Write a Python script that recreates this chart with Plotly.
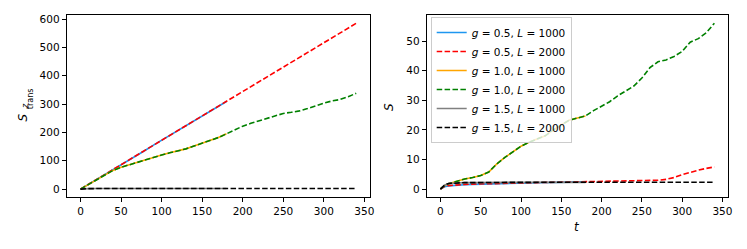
import plotly.graph_objects as go

# ---- data ----
t_long = [0, 5, 10, 20, 30, 40, 50, 60, 70, 80, 90, 100, 110, 120, 130, 140, 150, 160, 170, 180,
          190, 200, 210, 220, 230, 240, 250, 260, 270, 280, 290, 300, 310, 320, 330, 340]
t_short = t_long[:20]

# S_trans^z (left panel)
strans_g05_L2000 = [0, 8.6, 17, 34, 52, 69, 86, 103, 120, 138, 155, 172, 189, 206, 224, 241, 258, 275, 292, 310,
                    327, 344, 361, 378, 396, 413, 430, 447, 464, 482, 499, 516, 533, 550, 568, 585]
strans_g05_L1000 = [0, 8.4, 16.8, 34, 51, 68, 86, 103, 120, 137, 155, 172, 189, 206, 223, 240, 258, 275, 292, 309]
strans_g10_L2000 = [0, 8.5, 17, 33, 50, 66, 77, 86, 94, 103, 112, 120, 128, 134, 142, 152, 162, 171, 182, 195,
                    210, 222, 232, 241, 251, 260, 267, 271, 276, 284, 294, 303, 311, 316, 326, 338]
strans_g10_L1000 = [0, 8.5, 17, 33, 50, 66, 77, 86, 94, 103, 112, 120, 128, 134, 142, 152, 162, 171, 182, 195]
strans_g15_L2000 = [0, 1.2, 1.6, 2.0, 2.1, 2.2, 2.2, 2.3, 2.3, 2.3, 2.3, 2.3, 2.3, 2.3, 2.3, 2.3, 2.3, 2.3, 2.3, 2.3,
                    2.3, 2.3, 2.3, 2.3, 2.3, 2.3, 2.3, 2.3, 2.3, 2.3, 2.3, 2.3, 2.3, 2.3, 2.3, 2.3]
strans_g15_L1000 = [0, 1.2, 1.6, 2.0, 2.1, 2.2, 2.2, 2.3, 2.3, 2.3, 2.3, 2.3, 2.3, 2.3, 2.3, 2.3, 2.3, 2.3, 2.3, 2.3]

# entanglement entropy S (right panel)
S_g05_L2000 = [0, 0.9, 1.2, 1.5, 1.6, 1.7, 1.8, 1.9, 1.95, 2.0, 2.05, 2.1, 2.15, 2.2, 2.25, 2.3, 2.35, 2.4, 2.45, 2.5,
               2.55, 2.6, 2.65, 2.7, 2.75, 2.8, 2.85, 2.9, 3.0, 3.3, 3.9, 4.9, 5.7, 6.4, 7.0, 7.5]
S_g05_L1000 = [0, 0.8, 1.1, 1.4, 1.5, 1.6, 1.7, 1.8, 1.9, 1.95, 2.0, 2.05, 2.1, 2.15, 2.2, 2.25, 2.3, 2.35, 2.4, 2.45]
S_g10_L2000 = [0.1, 1.2, 1.8, 2.7, 3.4, 3.9, 4.6, 5.8, 8.5, 10.7, 12.6, 14.5, 15.8, 16.8, 18.0, 20.0, 21.6, 23.3, 24.0, 24.7,
               26.5, 28.0, 29.5, 31.5, 33.2, 34.8, 37.5, 41.0, 43.0, 43.6, 44.8, 46.5, 49.6, 50.8, 52.8, 56.0]
S_g10_L1000 = [0.1, 1.2, 1.8, 2.7, 3.4, 3.9, 4.6, 5.8, 8.5, 10.7, 12.6, 14.5, 15.8, 16.8, 18.0, 20.0, 21.6, 23.3, 24.0, 24.7]
S_g15_L2000 = [0, 1.3, 1.9, 2.1, 2.2, 2.2, 2.25, 2.25, 2.3, 2.3, 2.3, 2.3, 2.3, 2.3, 2.3, 2.3, 2.3, 2.3, 2.3, 2.3,
               2.3, 2.3, 2.3, 2.35, 2.35, 2.35, 2.35, 2.35, 2.35, 2.35, 2.35, 2.35, 2.35, 2.35, 2.35, 2.35]
S_g15_L1000 = [0, 1.3, 1.9, 2.1, 2.2, 2.2, 2.25, 2.25, 2.3, 2.3, 2.3, 2.3, 2.3, 2.3, 2.3, 2.3, 2.3, 2.3, 2.3, 2.3]

labels = ["<i>g</i> = 0.5, <i>L</i> = 1000", "<i>g</i> = 0.5, <i>L</i> = 2000",
          "<i>g</i> = 1.0, <i>L</i> = 1000", "<i>g</i> = 1.0, <i>L</i> = 2000",
          "<i>g</i> = 1.5, <i>L</i> = 1000", "<i>g</i> = 1.5, <i>L</i> = 2000"]
colors = ["#1E96F0", "red", "orange", "green", "gray", "black"]
x_ticks = [0, 50, 100, 150, 200, 250, 300, 350]

left_series = [(t_short, strans_g05_L1000), (t_long, strans_g05_L2000),
               (t_short, strans_g10_L1000), (t_long, strans_g10_L2000),
               (t_short, strans_g15_L1000), (t_long, strans_g15_L2000)]
right_series = [(t_short, S_g05_L1000), (t_long, S_g05_L2000),
                (t_short, S_g10_L1000), (t_long, S_g10_L2000),
                (t_short, S_g15_L1000), (t_long, S_g15_L2000)]

DASH = "5.5px,2.4px"
FONT = "DejaVu Sans"

# page body has an 8px margin: the figure is drawn 8px right/down
OFF = 8
W, H = 747 - OFF, 249 - OFF


def px(x):
    return (x - OFF) / W


def py(y):
    return 1 - (y - OFF) / H


fig = go.Figure()
for i, (tx, y) in enumerate(left_series):
    fig.add_trace(go.Scatter(x=tx, y=y, mode="lines", xaxis="x", yaxis="y", showlegend=False,
                             line=dict(color=colors[i], width=1.6, dash="solid" if i % 2 == 0 else DASH)))
for i, (tx, y) in enumerate(right_series):
    fig.add_trace(go.Scatter(x=tx, y=y, mode="lines", xaxis="x2", yaxis="y2", name=labels[i],
                             line=dict(color=colors[i], width=1.6, dash="solid" if i % 2 == 0 else DASH)))

axis_common = dict(showline=True, linecolor="black", linewidth=1, mirror=True, ticks="outside",
                   ticklen=4, tickwidth=1, tickcolor="black", showgrid=False, zeroline=False,
                   tickfont=dict(family=FONT, size=10.5, color="black"))


def label(text, x, y, size, rot=True):
    return dict(text=text, textangle=-90 if rot else 0, xref="paper", yref="paper",
                x=px(x), y=py(y), xanchor="center", yanchor="middle", showarrow=False,
                font=dict(family=FONT, size=size, color="black"))


fig.update_layout(
    width=W, height=H,
    margin=dict(l=0, r=0, t=0, b=0),
    paper_bgcolor="white", plot_bgcolor="white",
    font=dict(family=FONT, size=10.5, color="black"),
    xaxis=dict(domain=[px(67), px(372)], range=[-17, 357], tickvals=x_ticks, anchor="y", **axis_common),
    yaxis=dict(domain=[py(197), py(13)], range=[-29.3, 614.3],
               tickvals=[0, 100, 200, 300, 400, 500, 600], anchor="x", **axis_common),
    xaxis2=dict(domain=[px(429), px(732)], range=[-17, 357], tickvals=x_ticks, anchor="y2", **axis_common),
    yaxis2=dict(domain=[py(197), py(13)], range=[-2.8, 58.8],
                tickvals=[0, 10, 20, 30, 40, 50], anchor="x2", **axis_common),
    legend=dict(x=px(433), y=py(15), xanchor="left", yanchor="top",
                bgcolor="rgba(255,255,255,0.8)", bordercolor="#cccccc", borderwidth=1,
                font=dict(family=FONT, size=10.5, color="black"), tracegroupgap=0),
    annotations=[
        label("<i>S</i>", 23.5, 116, 12),
        label("trans", 30, 97, 8),
        label("<i>z</i>", 25, 105, 8),
        label("<i>S</i>", 391, 106, 12),
        label("<i>t</i>", 580, 227, 12, rot=False),
    ],
)

fig.write_html("out.html")
